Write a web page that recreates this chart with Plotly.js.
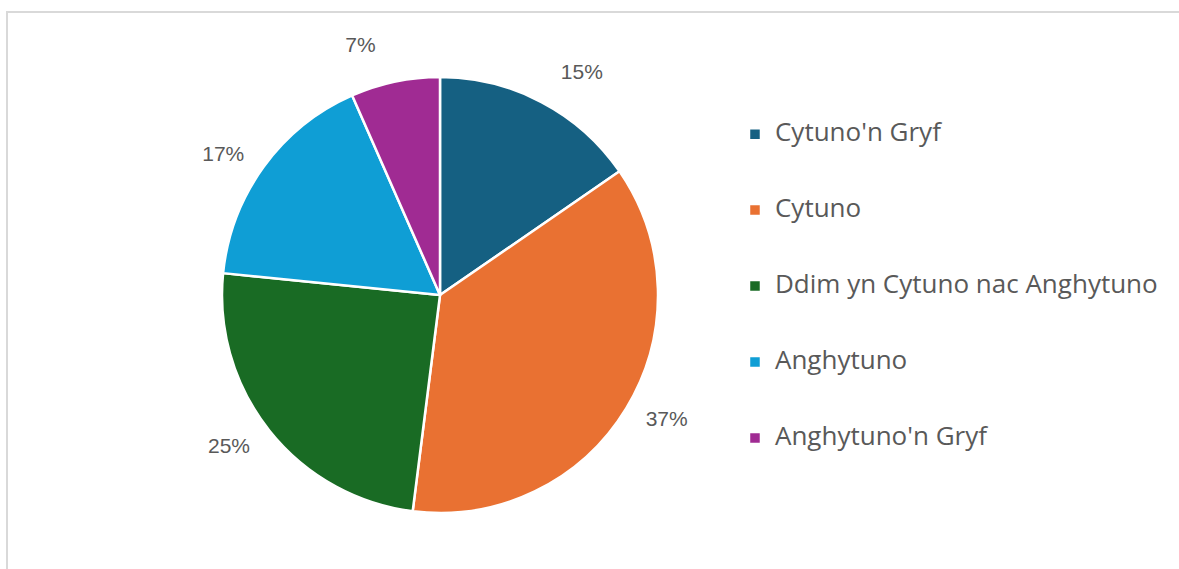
<!DOCTYPE html>
<html>
<head>
<meta charset="utf-8">
<script src="https://cdn.plot.ly/plotly-3.0.1.min.js"></script>
<style>
	html,body{margin:0;padding:0;background:#fff;}
	#chart{width:1179px;height:569px;}
</style>
</head>
<body>
<div id="chart"></div>
<script>
// categories and shares
const categories = ["Cytuno'n Gryf", "Cytuno", "Ddim yn Cytuno nac Anghytuno", "Anghytuno", "Anghytuno'n Gryf"];
const shares = [15.4, 36.6, 24.6, 16.8, 6.6];
const sliceColours = ['#156082', '#E97132', '#196B24', '#0F9ED5', '#A02B93'];

// legend rows are far apart in the original: pad each entry with blank lines
// (small line height) and draw the name itself bigger
const legendLabels = categories.map(c => '&nbsp;<br><span style="font-size:26px">' + c + '</span><br>&nbsp;');

const data = [{
	type: 'pie',
	labels: legendLabels,
	values: shares,
	sort: false,
	direction: 'clockwise',
	rotation: 0,
	marker: {colors: sliceColours, line: {color: '#ffffff', width: 2.5}},
	textposition: 'outside',
	// blank lines push the percentages a bit further from the rim
	texttemplate: '&nbsp;<br>%{percent:.0%}<br>&nbsp;',
	textfont: {family: 'Liberation Sans, Arial, sans-serif', size: 21, color: '#595959'},
	hoverinfo: 'none',
	domain: {x: [0.1883, 0.5581], y: [0.0984, 0.8647]}
}];

const layout = {
	width: 1179,
	height: 569,
	margin: {l: 0, r: 0, t: 0, b: 0},
	paper_bgcolor: '#ffffff',
	showlegend: true,
	legend: {
		x: 0.6234, xanchor: 'left',
		y: 0.497, yanchor: 'middle',
		font: {family: 'Open Sans, sans-serif', size: 18.7, color: '#595959'},
		itemclick: false
	},
	shapes: [{
		type: 'rect', xref: 'paper', yref: 'paper',
		x0: 7/1179, x1: 1.02, y0: -0.05, y1: 1 - 12/569,
		line: {color: '#d9d9d9', width: 2}
	}]
};

Plotly.newPlot('chart', data, layout, {staticPlot: true});
</script>
</body>
</html>
